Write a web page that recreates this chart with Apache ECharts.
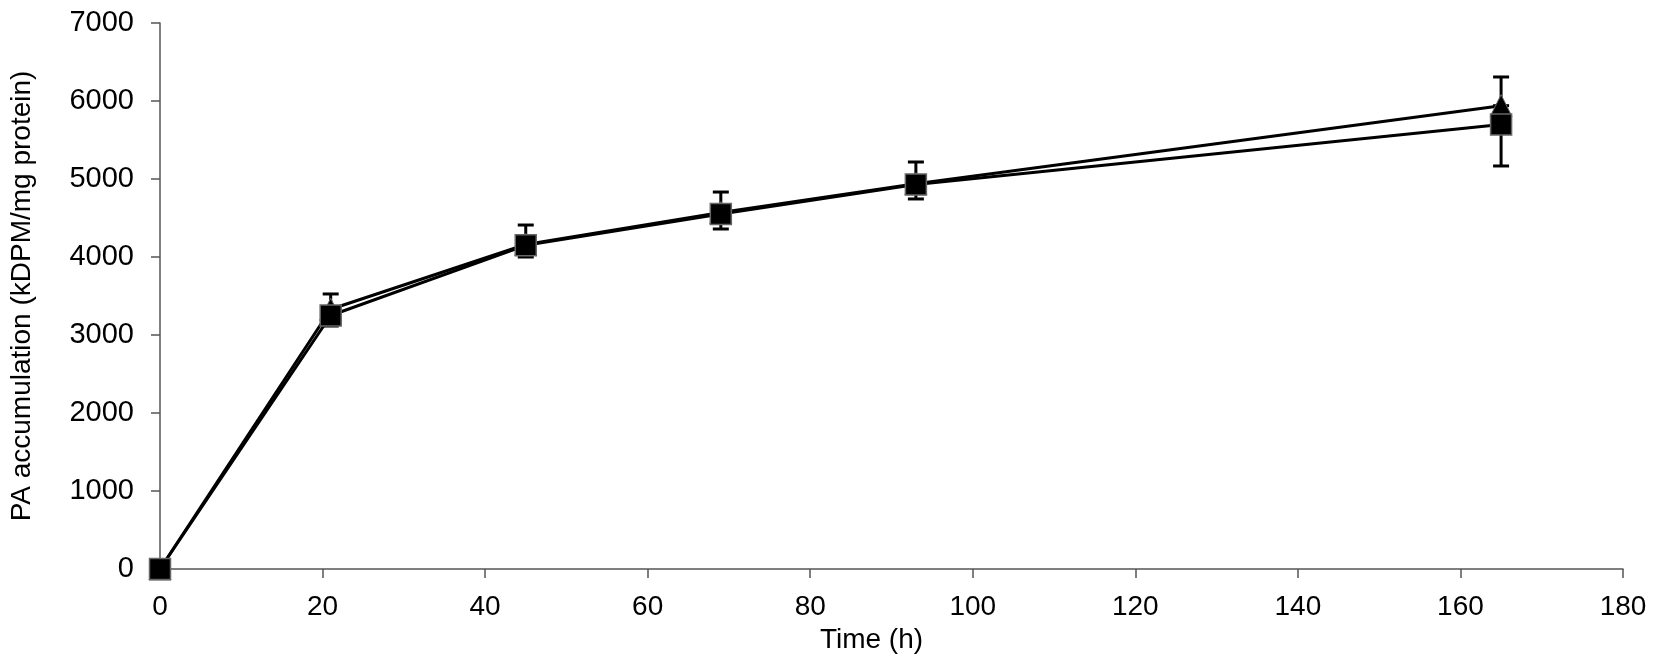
<!DOCTYPE html>
<html>
<head>
<meta charset="utf-8">
<script src="https://cdn.jsdelivr.net/npm/echarts@6/dist/echarts.min.js"></script>
<style>
  html, body { margin: 0; padding: 0; background: #fff; }
  #chart { width: 1654px; height: 666px; }
</style>
</head>
<body>
<div id="chart"></div>
<script>
// sampling times (h)
var times = [0, 21, 45, 69, 93, 165];
// PA accumulation, kDPM/mg protein
var triangleVals = [0, 3330, 4160, 4570, 4940, 5940];
var squareVals = [0, 3250, 4150, 4550, 4930, 5700];
// error bar extents
var triangleErrUp = [0, 196, 250, 263, 278, 368];
var squareErrDown = [0, 135, 150, 191, 186, 533];

var xTicks = [0, 20, 40, 60, 80, 100, 120, 140, 160, 180];
var yTicks = [0, 1000, 2000, 3000, 4000, 5000, 6000, 7000];

function pairs(vals) {
  return times.map(function (t, i) { return [t, vals[i]]; });
}

var errData = [];
times.forEach(function (t, i) {
  if (triangleErrUp[i] > 0) errData.push([t, triangleVals[i], triangleVals[i] + triangleErrUp[i]]);
  if (squareErrDown[i] > 0) errData.push([t, squareVals[i] - squareErrDown[i], squareVals[i]]);
});

function renderErr(params, api) {
  var x = api.value(0);
  var lo = api.coord([x, api.value(1)]);
  var hi = api.coord([x, api.value(2)]);
  var half = 8;
  var style = { stroke: '#000', lineWidth: 3 };
  return {
    type: 'group',
    children: [
      { type: 'line', shape: { x1: lo[0], y1: lo[1], x2: hi[0], y2: hi[1] }, style: style },
      { type: 'line', shape: { x1: hi[0] - half, y1: hi[1], x2: hi[0] + half, y2: hi[1] }, style: style },
      { type: 'line', shape: { x1: lo[0] - half, y1: lo[1], x2: lo[0] + half, y2: lo[1] }, style: style }
    ]
  };
}

var chart = echarts.init(document.getElementById('chart'));
var font = 'Liberation Sans, Arial, sans-serif';

chart.setOption({
  animation: false,
  backgroundColor: '#fff',
  grid: { left: 160, right: 31, top: 23, bottom: 97 },
  xAxis: {
    type: 'value',
    min: xTicks[0],
    max: xTicks[xTicks.length - 1],
    interval: 20,
    name: 'Time (h)',
    nameLocation: 'middle',
    nameGap: 52,
    nameTextStyle: { fontFamily: font, fontSize: 28, color: '#000', padding: [0, 40, 0, 0] },
    axisLine: { lineStyle: { color: '#555', width: 1.5 } },
    axisTick: { show: true, inside: false, length: 9, lineStyle: { color: '#555', width: 1.5 } },
    axisLabel: { fontFamily: font, fontSize: 28, color: '#000', margin: 24 },
    splitLine: { show: false }
  },
  yAxis: {
    type: 'value',
    min: yTicks[0],
    max: yTicks[yTicks.length - 1],
    interval: 1000,
    name: 'PA accumulation (kDPM/mg protein)',
    nameLocation: 'middle',
    nameGap: 124,
    nameTextStyle: { fontFamily: font, fontSize: 28, color: '#000' },
    axisLine: { show: true, lineStyle: { color: '#555', width: 1.5 } },
    axisTick: { show: true, inside: false, length: 9, lineStyle: { color: '#555', width: 1.5 } },
    axisLabel: {
      fontFamily: font, fontSize: 29, color: '#000', margin: 26,
      formatter: function (v) { return String(v); }
    },
    splitLine: { show: false }
  },
  series: [
    {
      type: 'custom',
      renderItem: renderErr,
      data: errData,
      encode: { x: 0, y: [1, 2] },
      z: 1
    },
    {
      name: 'triangle',
      type: 'line',
      data: pairs(triangleVals),
      symbol: 'triangle',
      symbolSize: [22, 22],
      lineStyle: { color: '#000', width: 3 },
      itemStyle: { color: '#000', borderColor: '#666', borderWidth: 1 },
      z: 2
    },
    {
      name: 'square',
      type: 'line',
      data: pairs(squareVals),
      symbol: 'rect',
      symbolSize: 21,
      lineStyle: { color: '#000', width: 3 },
      itemStyle: { color: '#000', borderColor: '#666', borderWidth: 1.5 },
      z: 3
    }
  ]
});
</script>
</body>
</html>
